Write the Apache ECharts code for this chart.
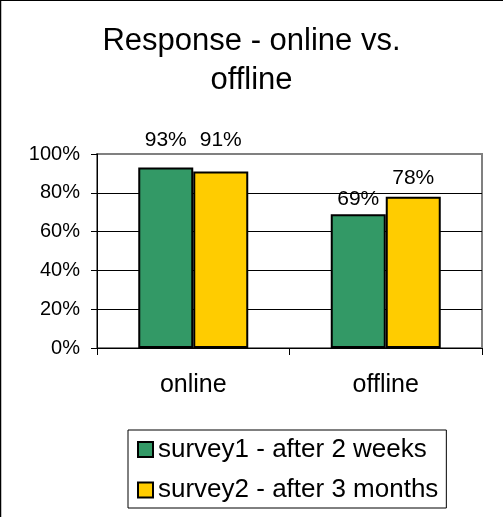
<!DOCTYPE html>
<html>
<head>
<meta charset="utf-8">
<script src="https://cdn.jsdelivr.net/npm/echarts@6/dist/echarts.min.js"></script>
<style>
  html, body { margin: 0; padding: 0; background: #fff; }
  #chart { width: 503px; height: 517px; }
</style>
</head>
<body>
<div id="chart"></div>
<script>
// Response rates (%) by channel
const categories = ['online', 'offline'];
const seriesNames = ['survey1 - after 2 weeks', 'survey2 - after 3 months'];
const survey1 = [93, 69];
const survey2 = [91, 78];
const yTicks = [0, 20, 40, 60, 80, 100];

// label offsets above each bar (style only)
const labelLift = [[17, 4], [21, 8]];
const barColors = ['#339966', '#FFCC00'];
const FONT = '"Liberation Sans", Arial, sans-serif';

const chart = echarts.init(document.getElementById('chart'), null, { renderer: 'canvas' });

function buildSeries(name, values, idx) {
  return {
    name: name,
    type: 'bar',
    barWidth: 55,
    barGap: '0%',
    itemStyle: { color: barColors[idx], borderColor: '#000', borderWidth: 2 },
    label: {
      show: true, position: 'top', color: '#000', fontFamily: FONT, fontSize: 21,
      formatter: p => p.value + '%'
    },
    data: values.map((v, i) => ({ value: v, label: { distance: labelLift[idx][i] } }))
  };
}

chart.setOption({
  animation: false,
  backgroundColor: '#fff',
  title: {
    text: 'Response - online vs.\noffline',
    left: 'center', top: 17,
    textStyle: { fontFamily: FONT, fontSize: 31, fontWeight: 'normal', color: '#000', lineHeight: 39 }
  },
  grid: {
    left: 97, right: 21, top: 154, bottom: 169,
    show: true, borderColor: '#808080', borderWidth: 2, backgroundColor: 'transparent'
  },
  legend: {
    orient: 'vertical', left: 128, top: 430,
    padding: [5.5, 8, 4, 9], itemGap: 12.5, itemWidth: 15, itemHeight: 15, icon: 'rect',
    borderColor: '#000', borderWidth: 1, backgroundColor: '#fff',
    textStyle: { fontFamily: FONT, fontSize: 26, color: '#000', lineHeight: 28 },
    data: seriesNames
  },
  xAxis: {
    type: 'category', data: categories,
    axisLine: { lineStyle: { color: '#000', width: 1 } },
    axisTick: { show: true, length: 7, lineStyle: { color: '#000' } },
    axisLabel: { margin: 25, fontFamily: FONT, fontSize: 25, color: '#000' },
    splitLine: { show: false }
  },
  yAxis: {
    type: 'value', min: yTicks[0], max: yTicks[yTicks.length - 1], interval: yTicks[1] - yTicks[0],
    axisLine: { show: true, lineStyle: { color: '#000', width: 1 } },
    axisTick: { show: true, length: 6, lineStyle: { color: '#000' } },
    axisLabel: { margin: 17, fontFamily: FONT, fontSize: 20, color: '#000', formatter: '{value}%' },
    splitLine: { show: true, showMinLine: false, showMaxLine: false, lineStyle: { color: '#000', width: 1 } }
  },
  graphic: [
    { type: 'line', shape: { x1: 0, y1: 0.5, x2: 503, y2: 0.5 }, style: { stroke: '#000', lineWidth: 1 }, silent: true },
    { type: 'line', shape: { x1: 0.5, y1: 0, x2: 0.5, y2: 517 }, style: { stroke: '#000', lineWidth: 1.5 }, silent: true }
  ],
  series: [
    buildSeries(seriesNames[0], survey1, 0),
    buildSeries(seriesNames[1], survey2, 1)
  ]
});
</script>
</body>
</html>
